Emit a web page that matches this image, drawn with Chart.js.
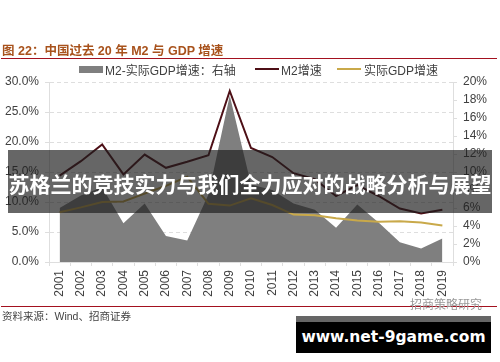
<!DOCTYPE html>
<html>
<head>
<meta charset="utf-8">
<script src="https://cdn.jsdelivr.net/npm/chart.js@4/dist/chart.umd.min.js"></script>
<style>
    body { margin: 0; background: #fff; font-family: 'Liberation Sans', 'Noto Sans CJK SC', sans-serif; }
    #page { position: relative; width: 500px; height: 362px; overflow: hidden; }
    #page > div { position: absolute; white-space: nowrap; }
    canvas { position: absolute; left: 0; top: 0; }
    .rule { left: 1px; width: 496px; height: 1px; background: #a3111f; }
    #title { left: 2px; top: 40px; font-size: 12.5px; font-weight: bold; color: #a8521c; }
    #source { left: 2px; top: 308px; font-size: 10.5px; color: #444; }
    #mark { left: 410px; top: 295px; font-size: 12px; color: #999; }
    #banner { left: 8px; top: 150px; width: 484px; height: 63px; background: rgba(30, 30, 30, 0.68);
        color: #fff; font-size: 21px; font-weight: bold; line-height: 70px; text-align: center; }
    #site { left: 296px; top: 316px; width: 195px; height: 37px; background: #000; border-top: 6px solid #666;
        box-sizing: border-box; color: #fff; font: bold 15.5px 'DejaVu Sans', sans-serif; line-height: 31px; text-align: center; }
    .key { top: 61px; font-size: 12px; color: #404040; }
    .swatch { position: absolute; top: 69px; width: 24px; }
</style>
</head>
<body>
<div id="page">
    <canvas id="chart" width="500" height="362"></canvas>
    <div id="title">图 22：中国过去 20 年 M2 与 GDP 增速</div>
    <div class="rule" style="top:58px"></div>
    <div id="legend"></div>
    <div class="rule" style="top:306px"></div>
    <div id="source">资料来源：Wind、招商证券</div>
    <div id="mark">招商策略研究</div>
    <div id="banner">苏格兰的竞技实力与我们全力应对的战略分析与展望</div>
    <div id="site">www.net-9game.com</div>
</div>
<script>
// Datos
const years = ['2001', '2002', '2003', '2004', '2005', '2006', '2007', '2008', '2009', '2010',
    '2011', '2012', '2013', '2014', '2015', '2016', '2017', '2018', '2019'];
const m2Growth = [14.4, 16.8, 19.6, 14.6, 17.9, 15.7, 16.7, 17.8, 28.5, 19.0,
    17.5, 14.8, 13.8, 11.0, 12.8, 11.0, 8.9, 8.1, 8.7];
const gdpGrowth = [8.3, 9.1, 10.0, 10.1, 11.4, 12.7, 14.2, 9.7, 9.4, 10.6,
    9.5, 7.9, 7.8, 7.3, 6.9, 6.7, 6.8, 6.6, 6.1];
const spread = [6.0, 7.4, 8.3, 4.3, 6.5, 2.9, 2.4, 7.5, 18.5, 8.6,
    8.0, 6.5, 5.8, 3.8, 6.4, 4.4, 2.2, 1.5, 2.6];

const seriesNames = ['M2-实际GDP增速：右轴', 'M2增速', '实际GDP增速'];
const seriesColors = ['#7f7f7f', '#4d0f16', '#c9a94a'];

const tickFont = { family: "'Liberation Sans', sans-serif", size: 12 };
const axisColor = '#dedede';

// Leyenda
const legendSlots = [
    { swatchX: 79, textX: 105, height: 7 },
    { swatchX: 255, textX: 281, height: 2 },
    { swatchX: 337, textX: 364, height: 2 }
];
legendSlots.forEach(function(slot, i) {
    const legend = document.getElementById('legend');
    legend.style.position = 'static';
    const swatch = document.createElement('div');
    swatch.className = 'swatch';
    swatch.style.left = slot.swatchX + 'px';
    swatch.style.height = slot.height + 'px';
    swatch.style.marginTop = (-slot.height / 2) + 'px';
    swatch.style.background = seriesColors[i];
    const key = document.createElement('div');
    key.className = 'key';
    key.style.left = slot.textX + 'px';
    key.textContent = seriesNames[i];
    const page = document.getElementById('page');
    page.insertBefore(swatch, legend);
    page.insertBefore(key, legend);
});

new Chart(document.getElementById('chart').getContext('2d'), {
    type: 'line',
    data: {
        labels: years,
        datasets: [
            {
                label: seriesNames[0],
                data: spread,
                yAxisID: 'y1',
                borderWidth: 0,
                backgroundColor: seriesColors[0],
                fill: 'origin',
                pointRadius: 0,
                order: 3
            },
            {
                label: seriesNames[1],
                data: m2Growth,
                yAxisID: 'y',
                borderColor: seriesColors[1],
                borderWidth: 2,
                pointRadius: 0,
                order: 1
            },
            {
                label: seriesNames[2],
                data: gdpGrowth,
                yAxisID: 'y',
                borderColor: seriesColors[2],
                borderWidth: 2,
                pointRadius: 0,
                order: 2
            }
        ]
    },
    options: {
        responsive: false,
        animation: false,
        layout: { padding: { top: 82 } },
        plugins: { legend: { display: false }, title: { display: false }, tooltip: { enabled: false } },
        scales: {
            x: {
                offset: true,
                afterFit: function(scale) { scale.height = 100; },
                grid: { offset: true, drawOnChartArea: false, color: axisColor, tickLength: 4 },
                border: { color: axisColor },
                ticks: { font: tickFont, color: '#404040', minRotation: 90, maxRotation: 90, autoSkip: false, padding: 4 }
            },
            y: {
                position: 'left',
                min: 0,
                max: 30,
                afterFit: function(scale) { scale.width = 49; },
                grid: { color: axisColor, tickLength: 4 },
                border: { color: axisColor, dash: [4, 3] },
                ticks: {
                    font: tickFont,
                    color: '#404040',
                    stepSize: 5,
                    padding: 6,
                    callback: function(value) { return value.toFixed(1) + '%'; }
                }
            },
            y1: {
                position: 'right',
                min: 0,
                max: 20,
                afterFit: function(scale) { scale.width = 47; },
                grid: { drawOnChartArea: false, color: axisColor, tickLength: 4 },
                border: { color: axisColor },
                ticks: {
                    font: tickFont,
                    color: '#404040',
                    stepSize: 2,
                    padding: 6,
                    callback: function(value) { return value + '%'; }
                }
            }
        }
    }
});
</script>
</body>
</html>
